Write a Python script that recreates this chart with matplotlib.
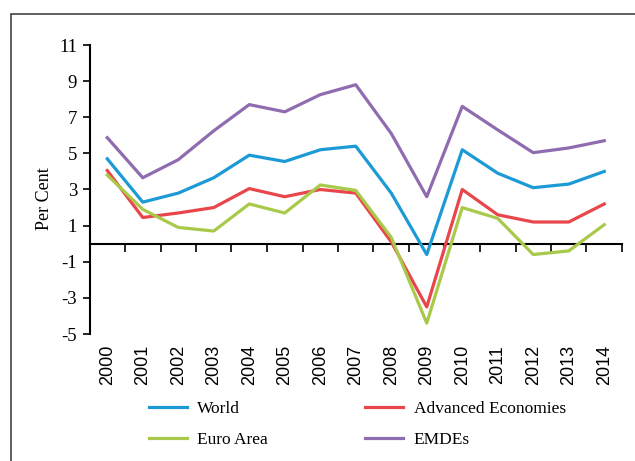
import matplotlib
matplotlib.use("Agg")
import matplotlib.pyplot as plt
import numpy as np
from matplotlib.patches import Rectangle

years = ['2000', '2001', '2002', '2003', '2004', '2005', '2006', '2007',
         '2008', '2009', '2010', '2011', '2012', '2013', '2014']
world = [4.7, 2.3, 2.8, 3.65, 4.9, 4.55, 5.2, 5.4, 2.8, -0.6, 5.2, 3.9, 3.1, 3.3, 4.0]
advanced = [4.05, 1.45, 1.7, 2.0, 3.05, 2.6, 3.0, 2.8, 0.1, -3.5, 3.0, 1.6, 1.2, 1.2, 2.2]
euro = [3.8, 1.9, 0.9, 0.7, 2.2, 1.7, 3.25, 2.95, 0.35, -4.4, 2.0, 1.4, -0.6, -0.4, 1.05]
emdes = [5.87, 3.65, 4.65, 6.25, 7.7, 7.3, 8.25, 8.8, 6.1, 2.6, 7.6, 6.3, 5.04, 5.3, 5.7]
yticks = [11, 9, 7, 5, 3, 1, -1, -3, -5]

serif = ['Liberation Serif', 'DejaVu Serif']
sans = ['Liberation Sans', 'DejaVu Sans']

fig = plt.figure(figsize=(6.35, 4.61), dpi=100)
fig.patches.append(Rectangle((11 / 635, -0.1), 1.2, 1 - 14 / 461 + 0.1,
                             transform=fig.transFigure, fill=False,
                             edgecolor='#444444', linewidth=1.2))
ax = fig.add_axes([89.5 / 635, 1 - 334 / 461, (622 - 89.5) / 635, (334 - 45) / 461])

x = np.arange(len(years))
lw = 2.3
l_world, = ax.plot(x, world, color='#1C9AD6', lw=lw, label='World')
l_adv, = ax.plot(x, advanced, color='#E8464A', lw=lw, label='Advanced Economies')
l_euro, = ax.plot(x, euro, color='#A9C94B', lw=lw, label='Euro Area')
l_emdes, = ax.plot(x, emdes, color='#8F6CAF', lw=lw, label='EMDEs')

ax.set_xlim(-0.5, 14.5)
ax.set_ylim(-5, 11)
ax.set_yticks(yticks)
ax.set_yticklabels([str(v) for v in yticks], family=serif, fontsize=13.5)
ax.tick_params(axis='y', direction='out', length=5, width=1.2, pad=4)
ax.set_xticks(x)
ax.set_xticklabels(years, rotation=90, family=sans, fontsize=13)
ax.tick_params(axis='x', length=0, pad=8)

for s in ['top', 'right', 'bottom']:
    ax.spines[s].set_visible(False)
ax.spines['left'].set_linewidth(1.5)

# zero line with category boundary ticks
sec = ax.secondary_xaxis(5 / 16)
sec.set_xticks(np.arange(-0.5, 15, 1))
sec.tick_params(direction='out', length=6, width=1.2, labelbottom=False)
sec.spines['bottom'].set_linewidth(1.5)

ax.set_ylabel('Per Cent', family=serif, fontsize=13)
ax.yaxis.set_label_coords(-0.068, 0.47)

handles = [l_world, l_euro, l_adv, l_emdes]
ax.legend(handles, [h.get_label() for h in handles],
          loc='upper left', bbox_to_anchor=(140 / 635, 1 - 392 / 461),
          bbox_transform=fig.transFigure, ncol=2, frameon=False,
          prop={'family': serif, 'size': 12.5},
          handlelength=2.2, handletextpad=0.6, columnspacing=5.6,
          labelspacing=0.85, borderpad=0)

fig.savefig('out.png', dpi=100)
